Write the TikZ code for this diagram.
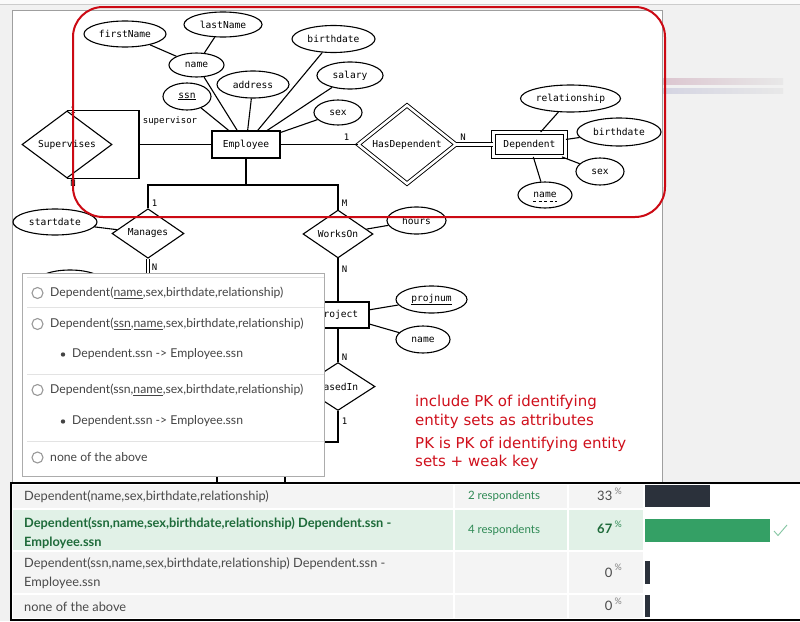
\documentclass[tikz,border=0pt]{standalone}
\usepackage{fontspec}
\setmonofont{DejaVu Sans Mono}
\newfontfamily\lato{Lato}
\newfontfamily\dejavu{DejaVu Sans}
\usetikzlibrary{shapes.geometric}
\definecolor{bggray}{HTML}{F1F1F1}
\definecolor{redline}{HTML}{CC0A14}
\definecolor{redtext}{HTML}{D0101C}
\definecolor{cellgray}{HTML}{F4F4F4}
\definecolor{txtgray}{HTML}{4A4A4A}
\definecolor{popgray}{HTML}{444444}
\definecolor{mint}{HTML}{E1F1E7}
\definecolor{dkgreen}{HTML}{1E6B3A}
\definecolor{midgreen}{HTML}{2F8A55}
\definecolor{bargreen}{HTML}{34A065}
\definecolor{bardark}{HTML}{2B313B}
\definecolor{sepgray}{HTML}{E3E3E3}
\definecolor{pinkbar}{HTML}{DCC6D0}
\definecolor{bluebar}{HTML}{D4D4E2}
\begin{document}
\begin{tikzpicture}[x=1pt,y=-1pt,
  erfont/.style={font=\ttfamily\fontsize{9.6}{11}\selectfont},
  attr/.style={ellipse, draw, line width=1.1pt, inner sep=0pt, fill=white, erfont},
  ent/.style={rectangle, draw, line width=1.1pt, inner sep=0pt, fill=white, erfont},
  rel/.style={diamond, draw, line width=1.1pt, inner sep=0pt, fill=white, erfont},
  dbl/.style={double, double distance=2.5pt, line width=0.9pt},
  card/.style={inner sep=0pt, font=\ttfamily\fontsize{9}{10}\selectfont},
  conn/.style={line width=1.1pt},
  redlbl/.style={anchor=base west, inner sep=0pt, text=redtext, font=\dejavu\fontsize{15}{18}\selectfont},
  poptext/.style={anchor=west, inner sep=0pt, text=popgray, font=\lato\fontsize{12.2}{14}\selectfont},
  radio/.style={circle, draw=gray!80, line width=1.1pt, fill=white, minimum size=11pt, inner sep=0pt},
  bulletdot/.style={circle, fill=popgray, minimum size=4.4pt, inner sep=0pt},
  tabtext/.style={anchor=base west, inner sep=0pt, text=txtgray, font=\lato\fontsize{12.8}{15}\selectfont},
  tabbold/.style={anchor=base west, inner sep=0pt, text=dkgreen, font=\lato\bfseries\fontsize{12.8}{15}\selectfont},
  resp/.style={inner sep=0pt, text=midgreen, font=\lato\fontsize{11.5}{13}\selectfont},
  pct/.style={anchor=base east, inner sep=0pt, text=txtgray, font=\lato\fontsize{13}{15}\selectfont},
  pctsign/.style={anchor=north west, inner sep=0pt, text=gray, font=\lato\fontsize{9}{10}\selectfont}
]
\useasboundingbox (0,0) rectangle (800,621);
% backgrounds
\fill[bggray] (0,0) rectangle (800,621);
\fill[white!96!gray] (0,0) rectangle (800,4.5);
\draw[gray!40, line width=1pt] (0,4.5) -- (800,4.5);
\shade[left color=pinkbar, right color=gray!18] (663,78) rectangle (783,84);
\shade[left color=bluebar, right color=gray!18] (663,88) rectangle (783,93);
\filldraw[fill=white, draw=gray!75, line width=1pt] (12.5,10.5) rectangle (662.5,490);

% ER diagram nodes
\node[attr, minimum width=82pt, minimum height=26pt] (fn) at (125,34) {firstName};
\node[attr, minimum width=78pt, minimum height=25pt] (ln) at (223,24.5) {lastName};
\node[attr, minimum width=55pt, minimum height=24pt] (nm) at (196.5,65) {name};
\node[attr, minimum width=83pt, minimum height=27pt] (bd) at (333.5,39) {birthdate};
\node[attr, minimum width=66pt, minimum height=27pt] (sal) at (350,75.5) {salary};
\node[attr, minimum width=72pt, minimum height=27pt] (adr) at (253,84.5) {address};
\node[attr, minimum width=48pt, minimum height=27pt] (ssn) at (187,96.5) {\underline{ssn}};
\node[attr, minimum width=48pt, minimum height=25pt] (sx) at (338,112.5) {sex};
\node[ent, minimum width=68pt, minimum height=27pt] (emp) at (246,144.5) {Employee};
\node[rel, minimum width=90pt, minimum height=55pt] (sup) at (67,144.5) {Supervises};
\node[rel, dbl, minimum width=98pt, minimum height=55pt] (hd) at (407,144.5) {HasDependent};
\node[ent, dbl, minimum width=72pt, minimum height=24pt] (dep) at (529.5,144.5) {Dependent};
\node[attr, minimum width=100pt, minimum height=27pt] (rsh) at (570.5,98.5) {relationship};
\node[attr, minimum width=84pt, minimum height=28pt] (dbd) at (619,132) {birthdate};
\node[attr, minimum width=48pt, minimum height=27pt] (dsx) at (600,171.5) {sex};
\node[attr, minimum width=54pt, minimum height=26pt] (dnm) at (545,195) {name};
\draw[line width=0.9pt, dash pattern=on 3pt off 2.5pt] ([xshift=-12pt,yshift=-6pt]dnm.center) -- ([xshift=12pt,yshift=-6pt]dnm.center);
\node[rel, minimum width=72pt, minimum height=41pt] (man) at (148,233.5) {Manages};
\node[rel, minimum width=70pt, minimum height=42pt] (wo) at (338,234) {WorksOn};
\node[attr, minimum width=84pt, minimum height=26pt] (sd) at (55,222) {startdate};
\node[attr, minimum width=59pt, minimum height=27pt] (hrs) at (416.5,220.5) {hours};
\node[ent, minimum width=62pt, minimum height=26pt] (proj) at (338,315) {Project};
\node[attr, minimum width=71pt, minimum height=27pt] (pnum) at (431.5,299.5) {\underline{projnum}};
\node[attr, minimum width=54pt, minimum height=27pt] (pnm) at (423,339.5) {name};
\node[rel, minimum width=74pt, minimum height=41pt] (bi) at (338,386.5) {BasedIn};
\node[ent, minimum width=68pt, minimum height=30pt] (dept) at (251,485) {};
\node[attr, minimum width=70pt, minimum height=27pt] (hid) at (70,283.5) {};

% junction coordinates
\coordinate (supM) at (139,144.5);
\coordinate (j) at (246,185);
\coordinate (hl) at (148,185);
\coordinate (hr) at (338,185);
\coordinate (mand) at (148,300);
\coordinate (bj) at (338,442);
\coordinate (bk) at (251,442);

% connectors
\begin{scope}[conn]
\draw (fn) -- (nm);
\draw (ln) -- (nm);
\draw (nm) -- (emp);
\draw (ssn) -- (emp);
\draw (adr) -- (emp);
\draw (bd) -- (emp);
\draw (sal) -- (emp);
\draw (sx) -- (emp);
\draw (sup.north) -| (supM) |- (sup.south);
\draw (supM) -- (emp);
\draw (emp) -- (hd);
\draw (rsh) -- (dep);
\draw (dbd) -- (dep);
\draw (dsx) -- (dep);
\draw (dnm) -- (dep);
\draw (emp) -- (j);
\draw (man) -- (hl) -- (hr) -- (wo);
\draw (sd) -- (man);
\draw (hrs) -- (wo);
\draw (wo) -- (proj);
\draw (pnum) -- (proj);
\draw (pnm) -- (proj);
\draw (proj) -- (bi);
\draw (bi) -- (bj) -- (bk) -- (dept);
\end{scope}
\draw[dbl] (hd) -- (dep);
\draw[dbl] (man) -- (mand);

% cardinalities
\node[card] (c1) at (73,110) {1};
\node[card] (c2) at (73,183) {N};
\node[card] (c3) at (170,121) {supervisor};
\node[card] (c4) at (346.5,137) {1};
\node[card] (c5) at (463,137) {N};
\node[card] (c6) at (154.5,203.5) {1};
\node[card] (c7) at (344.5,203.5) {M};
\node[card] (c8) at (154.5,267) {N};
\node[card] (c9) at (344.5,269) {N};
\node[card] (c10) at (344.5,357) {N};
\node[card] (c11) at (344.5,421) {1};

% red highlight
\draw[redline, line width=2pt, rounded corners=30pt] (73,7) rectangle (665,217);
\node[redlbl] (rt1) at (415,406) {include PK of identifying};
\node[redlbl] (rt2) at (415,425) {entity sets as attributes};
\node[redlbl] (rt3) at (415,448.5) {PK is PK of identifying entity};
\node[redlbl] (rt4) at (415,466.5) {sets + weak key};

% popup
\filldraw[fill=white, draw=gray!65, line width=1pt] (22.5,273.5) rectangle (324.5,476);
\draw[sepgray, line width=1pt] (27,277.5) -- (324,277.5);
\draw[sepgray, line width=1pt] (27,307.5) -- (324,307.5);
\draw[sepgray, line width=1pt] (27,374.5) -- (324,374.5);
\draw[sepgray, line width=1pt] (27,441.5) -- (324,441.5);
\node[radio] (ra1) at (37.5,293) {};
\node[radio] (ra2) at (37.5,324) {};
\node[radio] (ra3) at (37.5,390) {};
\node[radio] (ra4) at (37.5,457.5) {};
\node[poptext] (pt1) at (50,293) {Dependent(\underline{name},sex,birthdate,relationship)};
\node[poptext] (pt2) at (50,324) {Dependent(\underline{ssn},\underline{name},sex,birthdate,relationship)};
\node[bulletdot] (bu1) at (63,354.5) {};
\node[poptext] (pt3) at (72,354) {Dependent.ssn -> Employee.ssn};
\node[poptext] (pt4) at (50,390) {Dependent(ssn,\underline{name},sex,birthdate,relationship)};
\node[bulletdot] (bu2) at (63,421.5) {};
\node[poptext] (pt5) at (72,421) {Dependent.ssn -> Employee.ssn};
\node[poptext] (pt6) at (50,457.5) {none of the above};

% results table
\fill[white] (11,483) rectangle (800,620);
\fill[cellgray] (13,485) rectangle (453,508);
\fill[cellgray] (455,485) rectangle (567,508);
\fill[cellgray] (569,485) rectangle (643,508);
\fill[mint] (13,510) rectangle (453,550);
\fill[mint] (455,510) rectangle (567,550);
\fill[mint] (569,510) rectangle (643,550);
\fill[cellgray] (13,552) rectangle (453,593);
\fill[cellgray] (455,552) rectangle (567,593);
\fill[cellgray] (569,552) rectangle (643,593);
\fill[cellgray] (13,595) rectangle (453,618);
\fill[cellgray] (455,595) rectangle (567,618);
\fill[cellgray] (569,595) rectangle (643,618);
\draw[black, line width=1.2pt] (800,483) -- (11,483) -- (11,620) -- (800,620);

\node[tabtext] (q1) at (24,500.5) {Dependent(name,sex,birthdate,relationship)};
\node[tabbold] (q2a) at (24,527) {Dependent(ssn,name,sex,birthdate,relationship) Dependent.ssn -};
\node[tabbold] (q2b) at (24,546) {Employee.ssn};
\node[tabtext] (q3a) at (24,567) {Dependent(ssn,name,sex,birthdate,relationship) Dependent.ssn -};
\node[tabtext] (q3b) at (24,586.5) {Employee.ssn};
\node[tabtext] (q4) at (24,611) {none of the above};
\node[resp] (rs1) at (504,496) {2 respondents};
\node[resp] (rs2) at (504,530) {4 respondents};
\node[pct] (p1) at (612.5,500.5) {33};
\node[pctsign] (s1) at (614.5,487.5) {\%};
\node[pct, text=dkgreen, font=\lato\bfseries\fontsize{13}{15}\selectfont] (p2) at (612.5,533.5) {67};
\node[pctsign, text=midgreen] (s2) at (614.5,520.5) {\%};
\node[pct] (p3) at (612.5,577) {0};
\node[pctsign] (s3) at (614.5,564) {\%};
\node[pct] (p4) at (612.5,610.5) {0};
\node[pctsign] (s4) at (614.5,597.5) {\%};
\fill[bardark] (645,485) rectangle (710,507);
\fill[bargreen] (645,519) rectangle (770,542);
\fill[bardark] (645,561) rectangle (650,584);
\fill[bardark] (645,595) rectangle (650,617);
\draw[bargreen!60, line width=0.9pt] (774,531) -- (778,535.5) -- (787,525);
\end{tikzpicture}
\end{document}
